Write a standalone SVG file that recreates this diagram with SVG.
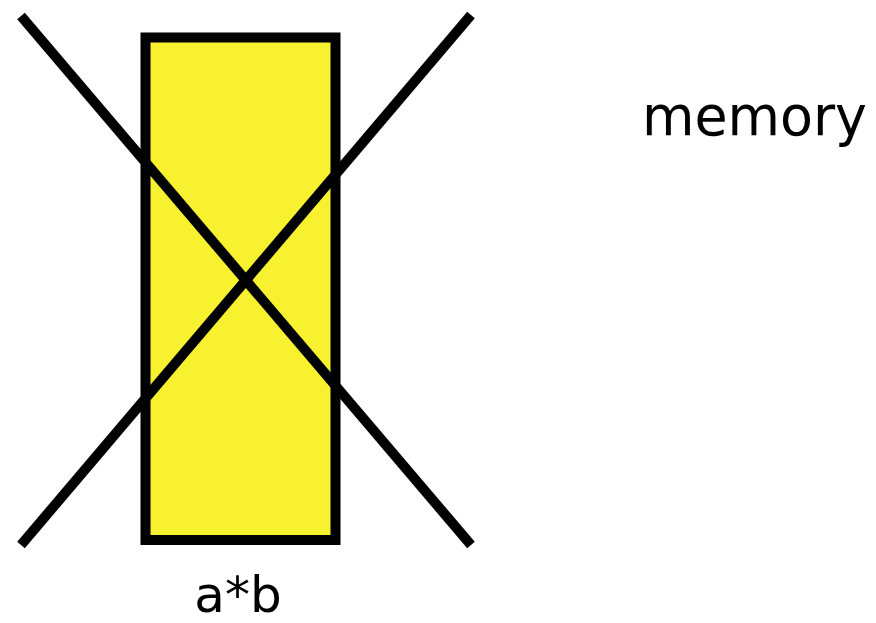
<svg xmlns="http://www.w3.org/2000/svg" width="876" height="623" viewBox="0 0 876 623">
<style>
.box{fill:#f8f12f;stroke:#000;stroke-width:10}
.cross{stroke:#000;stroke-width:10;stroke-linecap:butt}
.lbl{font-family:"DejaVu Sans","Liberation Sans",sans-serif;fill:#000}
</style>
<rect width="876" height="623" fill="#fff"/>
<g id="memory-cell">
<rect class="box" x="145.5" y="37.5" width="190" height="502.5"/>
<text class="lbl" x="238" y="612" font-size="50" text-anchor="middle">a*b</text>
</g>
<g id="connectors">
<line class="cross" x1="21" y1="16" x2="471" y2="545"/>
<line class="cross" x1="21" y1="545" x2="471" y2="15"/>
</g>
<g id="memory-label">
<text class="lbl" x="642" y="135" font-size="55" textLength="225" lengthAdjust="spacingAndGlyphs">memory</text>
</g>
</svg>
